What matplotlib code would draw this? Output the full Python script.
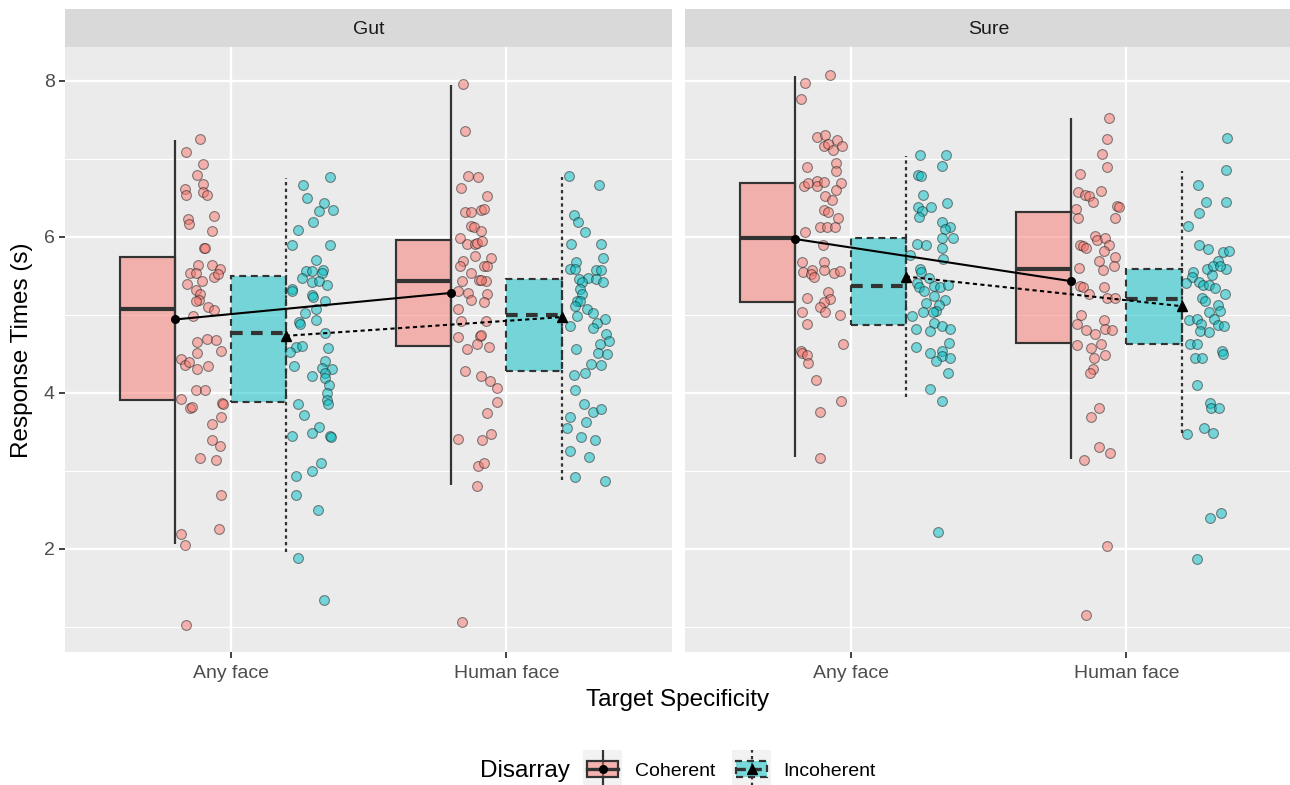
import matplotlib
matplotlib.use("Agg")
import matplotlib.pyplot as plt
from matplotlib.patches import Rectangle
from matplotlib.colors import to_rgba

plt.rcParams['font.family'] = ['Liberation Sans', 'DejaVu Sans']

# ---------------- data ----------------
categories = ["Any face", "Human face"]
panels = ["Gut", "Sure"]
groups = ["Coherent", "Incoherent"]
group_colors = ["#F8766D", "#00BFC4"]

# box statistics per category [Any face, Human face]
gut_coh_low = [2.06, 2.82]
gut_coh_q1 = [3.91, 4.60]
gut_coh_med = [5.07, 5.43]
gut_coh_q3 = [5.74, 5.96]
gut_coh_high = [7.24, 7.94]
gut_coh_mean = [4.94, 5.28]

gut_inc_low = [1.96, 2.88]
gut_inc_q1 = [3.88, 4.28]
gut_inc_med = [4.77, 5.00]
gut_inc_q3 = [5.50, 5.46]
gut_inc_high = [6.75, 6.76]
gut_inc_mean = [4.73, 4.97]

sure_coh_low = [3.18, 3.15]
sure_coh_q1 = [5.16, 4.64]
sure_coh_med = [5.98, 5.59]
sure_coh_q3 = [6.69, 6.32]
sure_coh_high = [8.06, 7.52]
sure_coh_mean = [5.97, 5.43]

sure_inc_low = [3.95, 3.49]
sure_inc_q1 = [4.87, 4.63]
sure_inc_med = [5.37, 5.20]
sure_inc_q3 = [5.98, 5.58]
sure_inc_high = [7.03, 6.84]
sure_inc_mean = [5.49, 5.11]

# individual observations (response time) and their horizontal jitter offset
gut_any_coh_y = [7.25, 7.09, 6.93, 6.79, 6.67, 6.61, 6.54, 6.57, 6.54, 6.26, 6.23, 6.16, 6.07, 5.85, 5.86,
                 5.64, 5.64, 5.58, 5.54, 5.54, 5.49, 5.52, 5.43, 5.40, 5.32, 5.26, 5.19, 5.17, 5.10, 5.06,
                 4.99, 4.69, 4.68, 4.65, 4.54, 4.51, 4.43, 4.36, 4.39, 4.30, 4.35, 4.03, 4.03, 3.92, 3.81,
                 3.82, 3.87, 3.86, 3.69, 3.60, 3.39, 3.32, 3.17, 3.14, 2.69, 2.25, 2.19, 2.05, 1.02]
gut_any_coh_dx = [-0.112, -0.161, -0.101, -0.123, -0.100, -0.165, -0.162, -0.101, -0.085, -0.060, -0.153,
                  -0.151, -0.069, -0.097, -0.093, -0.117, -0.069, -0.039, -0.147, -0.126, -0.059, -0.045,
                  -0.103, -0.157, -0.126, -0.110, -0.115, -0.126, -0.081, -0.059, -0.135, -0.086, -0.054,
                  -0.121, -0.036, -0.123, -0.178, -0.165, -0.150, -0.120, -0.082, -0.126, -0.091, -0.180,
                  -0.147, -0.141, -0.030, -0.028, -0.033, -0.066, -0.068, -0.040, -0.110, -0.054, -0.033,
                  -0.043, -0.178, -0.165, -0.161]

gut_any_inc_y = [6.76, 6.66, 6.49, 6.43, 6.33, 6.34, 6.19, 6.09, 5.89, 5.89, 5.70, 5.56, 5.56, 5.57, 5.54,
                 5.47, 5.42, 5.43, 5.38, 5.33, 5.31, 5.25, 5.23, 5.17, 5.08, 5.02, 4.91, 4.88, 4.93, 4.77,
                 4.59, 4.60, 4.52, 4.57, 4.35, 4.41, 4.32, 4.30, 4.22, 4.25, 4.19, 4.10, 4.00, 3.91, 3.86,
                 3.86, 3.72, 3.56, 3.48, 3.45, 3.45, 3.44, 3.10, 3.00, 2.93, 2.69, 2.50, 1.89, 1.35]
gut_any_inc_dx = [0.359, 0.263, 0.277, 0.339, 0.322, 0.372, 0.298, 0.244, 0.221, 0.362, 0.309, 0.274,
                  0.296, 0.335, 0.331, 0.258, 0.296, 0.322, 0.348, 0.221, 0.223, 0.297, 0.300, 0.344,
                  0.309, 0.269, 0.248, 0.251, 0.309, 0.344, 0.237, 0.258, 0.215, 0.354, 0.231, 0.342,
                  0.330, 0.366, 0.296, 0.344, 0.342, 0.357, 0.348, 0.349, 0.355, 0.245, 0.268, 0.319,
                  0.296, 0.221, 0.361, 0.364, 0.329, 0.296, 0.239, 0.239, 0.318, 0.245, 0.338]

gut_hum_coh_y = [7.95, 7.35, 6.78, 6.76, 6.63, 6.52, 6.31, 6.31, 6.34, 6.35, 6.14, 6.13, 6.07, 5.98, 5.91,
                 5.91, 5.92, 5.95, 5.73, 5.75, 5.69, 5.63, 5.62, 5.63, 5.53, 5.43, 5.45, 5.43, 5.45, 5.31,
                 5.28, 5.26, 5.19, 5.16, 5.08, 4.92, 4.92, 4.72, 4.73, 4.74, 4.63, 4.59, 4.56, 4.28, 4.22,
                 4.15, 4.06, 3.88, 3.74, 3.41, 3.39, 3.47, 3.06, 3.10, 2.81, 1.07]
gut_hum_coh_dx = [-0.156, -0.152, -0.140, -0.103, -0.163, -0.069, -0.150, -0.130, -0.094, -0.081, -0.128,
                  -0.117, -0.091, -0.167, -0.143, -0.115, -0.105, -0.088, -0.056, -0.114, -0.159, -0.167,
                  -0.082, -0.070, -0.129, -0.161, -0.101, -0.075, -0.094, -0.176, -0.140, -0.069, -0.127,
                  -0.083, -0.174, -0.075, -0.163, -0.176, -0.095, -0.092, -0.106, -0.065, -0.143, -0.152,
                  -0.091, -0.058, -0.033, -0.033, -0.071, -0.176, -0.087, -0.056, -0.103, -0.080, -0.105,
                  -0.162]

gut_hum_inc_y = [6.78, 6.66, 6.28, 6.19, 6.06, 5.91, 5.91, 5.73, 5.68, 5.59, 5.59, 5.57, 5.57, 5.47, 5.46,
                 5.46, 5.42, 5.42, 5.33, 5.27, 5.18, 5.17, 5.11, 5.07, 5.02, 4.99, 4.94, 4.89, 4.85, 4.83,
                 4.75, 4.67, 4.63, 4.51, 4.50, 4.56, 4.37, 4.36, 4.25, 4.23, 4.04, 3.86, 3.76, 3.79, 3.63,
                 3.69, 3.55, 3.44, 3.39, 3.26, 3.18, 2.92, 2.87]
gut_hum_inc_dx = [0.226, 0.335, 0.244, 0.258, 0.283, 0.233, 0.342, 0.350, 0.251, 0.231, 0.249, 0.324,
                  0.342, 0.297, 0.326, 0.262, 0.273, 0.350, 0.266, 0.272, 0.255, 0.266, 0.249, 0.293,
                  0.312, 0.254, 0.356, 0.329, 0.231, 0.314, 0.360, 0.372, 0.338, 0.333, 0.364, 0.252,
                  0.307, 0.342, 0.283, 0.245, 0.250, 0.280, 0.314, 0.342, 0.290, 0.229, 0.219, 0.269,
                  0.320, 0.231, 0.300, 0.249, 0.356]

sure_any_coh_y = [8.07, 7.97, 7.77, 7.28, 7.30, 7.24, 7.16, 7.19, 7.11, 7.16, 6.89, 6.94, 6.84, 6.65, 6.69,
                  6.71, 6.65, 6.70, 6.69, 6.60, 6.52, 6.47, 6.34, 6.31, 6.24, 6.12, 6.12, 6.13, 6.06, 5.90,
                  5.68, 5.55, 5.57, 5.52, 5.48, 5.67, 5.57, 5.54, 5.56, 5.29, 5.20, 5.22, 5.16, 5.10, 5.04,
                  5.03, 5.00, 4.88, 4.62, 4.53, 4.51, 4.48, 4.38, 4.17, 3.90, 3.76, 3.17]
sure_any_coh_dx = [-0.075, -0.165, -0.181, -0.120, -0.091, -0.048, -0.097, -0.081, -0.063, -0.030, -0.157,
                   -0.052, -0.052, -0.168, -0.153, -0.123, -0.121, -0.097, -0.035, -0.051, -0.091, -0.066,
                   -0.097, -0.081, -0.047, -0.111, -0.085, -0.056, -0.165, -0.101, -0.175, -0.171, -0.138,
                   -0.144, -0.133, -0.097, -0.097, -0.059, -0.039, -0.080, -0.075, -0.159, -0.095, -0.111,
                   -0.091, -0.175, -0.040, -0.157, -0.027, -0.181, -0.175, -0.159, -0.153, -0.124, -0.034,
                   -0.110, -0.111]

sure_any_inc_y = [7.05, 7.05, 6.91, 6.79, 6.78, 6.53, 6.43, 6.38, 6.33, 6.38, 6.25, 6.19, 6.12, 6.10, 5.98,
                  5.98, 5.85, 5.91, 5.89, 5.77, 5.71, 5.59, 5.55, 5.47, 5.41, 5.35, 5.31, 5.37, 5.36, 5.38,
                  5.24, 5.19, 5.13, 5.15, 4.99, 5.04, 5.05, 5.03, 4.89, 4.86, 4.82, 4.82, 4.79, 4.64, 4.59,
                  4.51, 4.54, 4.47, 4.41, 4.45, 4.26, 4.05, 3.89, 2.22]
sure_any_inc_dx = [0.251, 0.347, 0.332, 0.245, 0.256, 0.264, 0.349, 0.246, 0.260, 0.293, 0.248, 0.332,
                   0.360, 0.344, 0.373, 0.332, 0.333, 0.242, 0.273, 0.217, 0.336, 0.251, 0.255, 0.283,
                   0.240, 0.248, 0.267, 0.303, 0.326, 0.353, 0.302, 0.342, 0.320, 0.273, 0.223, 0.261,
                   0.309, 0.298, 0.302, 0.330, 0.362, 0.236, 0.287, 0.357, 0.237, 0.287, 0.333, 0.330,
                   0.308, 0.362, 0.354, 0.287, 0.333, 0.318]

sure_hum_coh_y = [7.52, 7.25, 7.06, 6.89, 6.80, 6.59, 6.57, 6.53, 6.52, 6.44, 6.39, 6.38, 6.35, 6.24, 6.24,
                  6.01, 5.96, 5.98, 5.89, 5.90, 5.88, 5.85, 5.82, 5.69, 5.74, 5.62, 5.60, 5.57, 5.37, 5.36,
                  5.35, 5.26, 5.21, 5.22, 5.00, 4.93, 4.88, 4.80, 4.75, 4.82, 4.81, 4.61, 4.58, 4.62, 4.45,
                  4.49, 4.31, 4.25, 3.80, 3.69, 3.30, 3.23, 3.14, 2.04, 1.16]
sure_hum_coh_dx = [-0.065, -0.071, -0.087, -0.070, -0.168, -0.091, -0.175, -0.151, -0.135, -0.120, -0.036,
                   -0.028, -0.184, -0.174, -0.041, -0.115, -0.106, -0.079, -0.064, -0.167, -0.157, -0.146,
                   -0.081, -0.101, -0.042, -0.045, -0.171, -0.085, -0.168, -0.159, -0.083, -0.135, -0.072,
                   -0.042, -0.165, -0.082, -0.179, -0.145, -0.115, -0.079, -0.052, -0.179, -0.129, -0.094,
                   -0.117, -0.077, -0.123, -0.133, -0.099, -0.130, -0.100, -0.060, -0.153, -0.072, -0.145]

sure_hum_inc_y = [7.26, 6.85, 6.66, 6.45, 6.44, 6.30, 6.14, 5.89, 5.84, 5.81, 5.82, 5.69, 5.59, 5.59, 5.62,
                  5.62, 5.55, 5.49, 5.51, 5.41, 5.42, 5.38, 5.38, 5.34, 5.26, 5.22, 5.17, 5.13, 5.05, 5.04,
                  4.93, 4.94, 4.94, 4.88, 4.87, 4.85, 4.79, 4.78, 4.63, 4.63, 4.45, 4.44, 4.54, 4.50, 4.10,
                  3.87, 3.81, 3.80, 3.47, 3.55, 3.49, 2.40, 2.46, 1.87]
sure_hum_inc_dx = [0.366, 0.362, 0.258, 0.287, 0.359, 0.262, 0.222, 0.262, 0.297, 0.350, 0.372, 0.333,
                   0.292, 0.359, 0.314, 0.338, 0.240, 0.236, 0.309, 0.217, 0.262, 0.278, 0.300, 0.322,
                   0.356, 0.273, 0.286, 0.333, 0.338, 0.300, 0.228, 0.256, 0.316, 0.271, 0.332, 0.353,
                   0.266, 0.300, 0.231, 0.255, 0.248, 0.274, 0.347, 0.350, 0.257, 0.303, 0.307, 0.336,
                   0.219, 0.280, 0.314, 0.304, 0.341, 0.256]

# ---------------- assemble ----------------
stats = {
    ("Gut", "Coherent"): (gut_coh_low, gut_coh_q1, gut_coh_med, gut_coh_q3, gut_coh_high, gut_coh_mean),
    ("Gut", "Incoherent"): (gut_inc_low, gut_inc_q1, gut_inc_med, gut_inc_q3, gut_inc_high, gut_inc_mean),
    ("Sure", "Coherent"): (sure_coh_low, sure_coh_q1, sure_coh_med, sure_coh_q3, sure_coh_high, sure_coh_mean),
    ("Sure", "Incoherent"): (sure_inc_low, sure_inc_q1, sure_inc_med, sure_inc_q3, sure_inc_high, sure_inc_mean),
}
points = {
    ("Gut", "Coherent"): [(gut_any_coh_y, gut_any_coh_dx), (gut_hum_coh_y, gut_hum_coh_dx)],
    ("Gut", "Incoherent"): [(gut_any_inc_y, gut_any_inc_dx), (gut_hum_inc_y, gut_hum_inc_dx)],
    ("Sure", "Coherent"): [(sure_any_coh_y, sure_any_coh_dx), (sure_hum_coh_y, sure_hum_coh_dx)],
    ("Sure", "Incoherent"): [(sure_any_inc_y, sure_any_inc_dx), (sure_hum_inc_y, sure_hum_inc_dx)],
}

W, H = 1290, 785
fig = plt.figure(figsize=(W / 100, H / 100), dpi=100)
fig.patch.set_facecolor("white")


def rect(x0, y0, x1, y1):
    return [x0 / W, 1 - y1 / H, (x1 - x0) / W, (y1 - y0) / H]


dodge = {"Coherent": -0.2, "Incoherent": 0.2}
box_ls = {"Coherent": "solid", "Incoherent": (0, (3.2, 2.2))}
med_ls = {"Coherent": "solid", "Incoherent": (0, (2.8, 2.0))}
wh_ls = {"Coherent": "solid", "Incoherent": (0, (1.5, 1.5))}
mean_ls = {"Coherent": "solid", "Incoherent": (0, (2.0, 1.6))}
mean_mk = {"Coherent": "o", "Incoherent": "^"}
mean_ms = {"Coherent": 5.5, "Incoherent": 7.5}
edge = "#333333"

panel_px = [(65, 672), (685, 1292)]
for pi, panel in enumerate(panels):
    x0, x1 = panel_px[pi]
    ax = fig.add_axes(rect(x0, 47, x1, 652))
    ax.set_facecolor("#EBEBEB")
    ax.set_xlim(0.4, 2.6)
    ax.set_ylim(0.68, 8.43)
    ax.set_xticks([1, 2])
    ax.set_xticklabels(categories)
    ax.set_yticks([2, 4, 6, 8])
    ax.set_yticks([1, 3, 5, 7], minor=True)
    ax.grid(which="major", color="white", lw=1.7)
    ax.grid(which="minor", axis="y", color="white", lw=0.85)
    ax.set_axisbelow(True)
    for sp in ax.spines.values():
        sp.set_visible(False)
    ax.tick_params(which="minor", length=0)
    ax.tick_params(which="major", length=4, width=1.3, color=edge, labelsize=14,
                   labelcolor="#4D4D4D", pad=3.5)
    ax.tick_params(axis="x", pad=5.5)
    if pi > 0:
        ax.tick_params(axis="y", length=0, labelleft=False)

    for gi, g in enumerate(groups):
        col = group_colors[gi]
        low, q1, med, q3, high, mean = stats[(panel, g)]
        off = dodge[g]
        for ci in range(len(categories)):
            pos = ci + 1 + off
            ax.add_patch(Rectangle((pos - 0.2, q1[ci]), 0.2, q3[ci] - q1[ci],
                                   facecolor=to_rgba(col, 0.5), edgecolor=edge, lw=1.55,
                                   linestyle=box_ls[g], zorder=2))
            ax.plot([pos - 0.2, pos], [med[ci], med[ci]], color=edge, lw=3.0,
                    linestyle=med_ls[g], solid_capstyle="butt", zorder=3)
            ax.plot([pos, pos], [low[ci], high[ci]], color=edge, lw=1.6,
                    linestyle=wh_ls[g], solid_capstyle="butt", zorder=3)
            yv, dx = points[(panel, g)][ci]
            xs = [ci + 1 + d for d in dx]
            ax.scatter(xs, yv, s=50, facecolor=to_rgba(col, 0.5),
                       edgecolor=(0.1, 0.1, 0.1, 0.5), linewidths=0.8, zorder=4)
        xm = [ci + 1 + off for ci in range(len(categories))]
        ax.plot(xm, mean, color="black", lw=1.5, linestyle=mean_ls[g], zorder=5)
        ax.plot(xm, mean, linestyle="none", marker=mean_mk[g], ms=mean_ms[g],
                color="black", zorder=6)

    sax = fig.add_axes(rect(x0, 9, x1, 47))
    sax.set_facecolor("#D9D9D9")
    sax.set_xticks([])
    sax.set_yticks([])
    for sp in sax.spines.values():
        sp.set_visible(False)
    sax.text(0.5, 0.45, panel, ha="center", va="center", fontsize=14, color="#1A1A1A",
             transform=sax.transAxes)

# axis titles
fig.text(677.5 / W, 1 - 700 / H, "Target Specificity", ha="center", va="center", fontsize=17.5)
fig.text(22 / W, 1 - 350 / H, "Response Times (s)", ha="center", va="center",
         rotation=90, fontsize=17.5)

# legend
fig.text(480 / W, 1 - 771 / H, "Disarray", ha="left", va="center", fontsize=17.5)
key_px = [(583, 622), (732, 771)]
label_px = [635, 783]
for gi, g in enumerate(groups):
    kx0, kx1 = key_px[gi]
    kax = fig.add_axes(rect(kx0, 750, kx1, 790))
    kax.set_xlim(0, 1)
    kax.set_ylim(0, 1)
    kax.set_facecolor("#F2F2F2")
    kax.set_xticks([])
    kax.set_yticks([])
    for sp in kax.spines.values():
        sp.set_visible(False)
    kax.plot([0.5, 0.5], [0, 1], color=edge, lw=1.6, linestyle=wh_ls[g], zorder=1)
    kax.add_patch(Rectangle((0.1, 0.32), 0.8, 0.41, facecolor=to_rgba(group_colors[gi], 0.5),
                            edgecolor=edge, lw=1.6, linestyle=box_ls[g], zorder=2))
    kax.plot([0.1, 0.9], [0.525, 0.525], color=edge, lw=2.4, linestyle=med_ls[g], zorder=3)
    kax.plot([0.5], [0.525], marker=mean_mk[g], ms=mean_ms[g], color="black", zorder=4)
    fig.text(label_px[gi] / W, 1 - 771 / H, g, ha="left", va="center", fontsize=14)

fig.savefig("out.png", dpi=100)
